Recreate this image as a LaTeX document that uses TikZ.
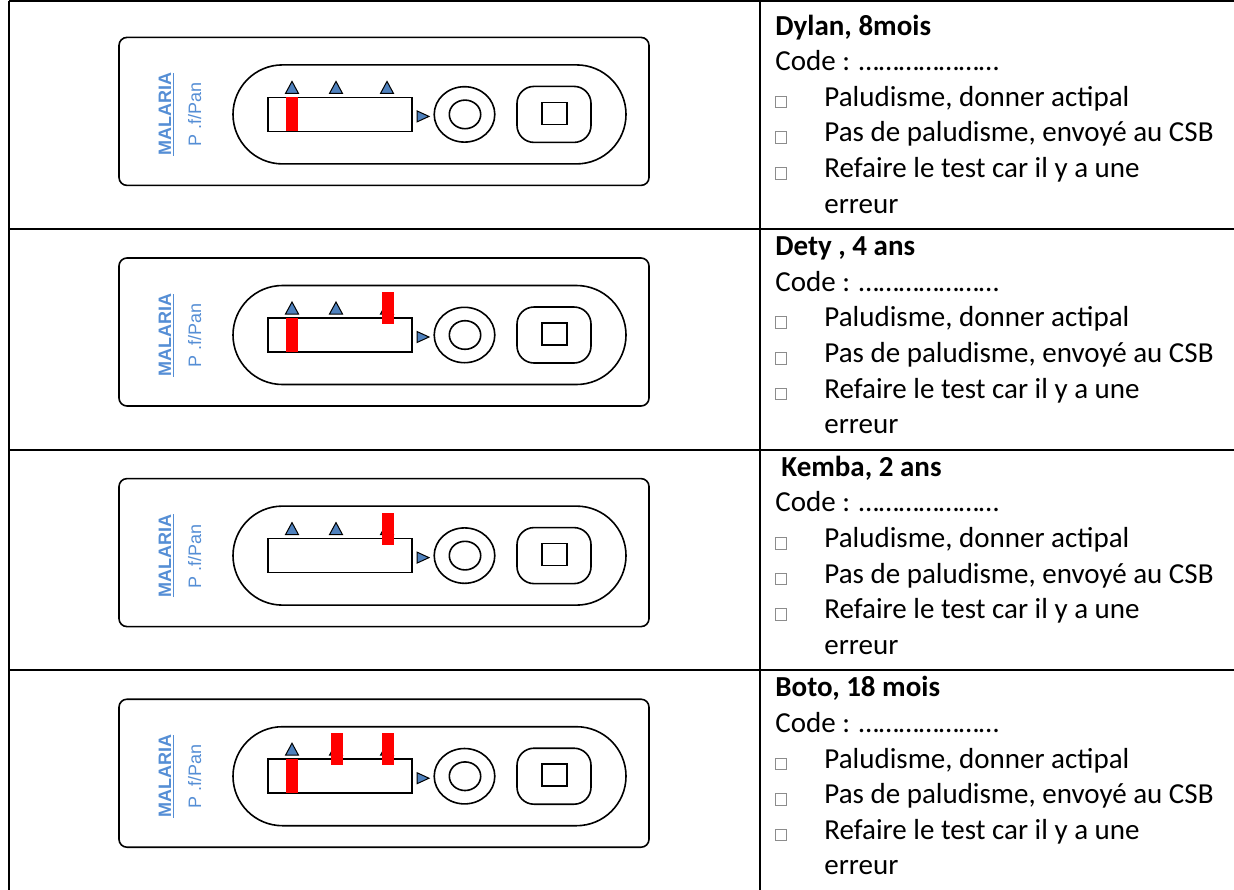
\documentclass[tikz,border=0pt]{standalone}
\usepackage{fontspec}
\setmainfont{Carlito}
\newfontfamily\arialfont{Liberation Sans}
\definecolor{labelblue}{HTML}{558ED5}
\definecolor{markblue}{HTML}{4F81BD}
\definecolor{boxgray}{HTML}{8C8C8C}
\begin{document}
\begin{tikzpicture}[x=0.5pt, y=-0.5pt,
  tableline/.style={line width=1pt},
  casing/.style={line width=0.8pt},
  marker/.style={draw=black, fill=markblue, line width=0.5pt},
  redline/.style={fill=red},
  tickbox/.style={draw=boxgray, line width=0.4pt},
  entry/.style={anchor=base west, inner sep=0pt, font=\fontsize{14.5}{17}\selectfont},
  brand/.style={rotate=90, anchor=base, inner sep=0pt, text=labelblue, font=\arialfont\fontsize{9}{11}\selectfont}]
\useasboundingbox (0,0) rectangle (1234,889);
\clip (0,0) rectangle (1234,889);
% table
\draw[tableline] (8.7,1) -- (1240,1);
\draw[tableline] (8.7,229) -- (1240,229);
\draw[tableline] (8.7,450) -- (1240,450);
\draw[tableline] (8.7,670) -- (1240,670);
\draw[tableline] (8.7,1) -- (8.7,900);
\draw[tableline] (760,1) -- (760,900);
% Dylan
\begin{scope}
\draw[casing, rounded corners=4pt] (119,37.4) rectangle (649,185.4);
\draw[casing, rounded corners=24.75pt] (233,64.9) rectangle (626,163.9);
\draw[casing] (268,97.4) rectangle (412,131.4);
\draw[marker] (285.5,93.4) -- (292,81.4) -- (298.5,93.4) -- cycle;
\draw[marker] (329.5,93.4) -- (336,81.4) -- (342.5,93.4) -- cycle;
\draw[marker] (380.5,93.4) -- (387,81.4) -- (393.5,93.4) -- cycle;
\draw[marker] (417,110.9) -- (429,116.4) -- (417,121.9) -- cycle;
\draw[casing] (464.5,114.4) ellipse [x radius=30.3, y radius=27.7];
\draw[casing] (465,114.4) ellipse [x radius=15.7, y radius=14.3];
\draw[casing, rounded corners=8.5pt] (517,86.4) rectangle (591,142.4);
\draw[casing] (542,102.4) rectangle (567,124.4);
\node[brand] (malaria1) at (171,114.4) {\bfseries\underline{MALARIA}};
\node[brand] (pfpan1) at (201,114.9) {P .f/Pan};
\fill[redline] (286,97.4) rectangle (298,131.4);
\node[entry] (name1) at (775,35) {\textbf{Dylan, 8mois}};
\node[entry] (code1) at (775,70.6) {Code : …………………};
\draw[tickbox] (775,96.2) rectangle (786.5,107.7);
\draw[tickbox] (775,131.8) rectangle (786.5,143.3);
\draw[tickbox] (775,167.4) rectangle (786.5,178.9);
\node[entry] (yes1) at (824,106.2) {Paludisme, donner actipal};
\node[entry] (no1) at (824,141.8) {Pas de paludisme, envoyé au CSB};
\node[entry] (redo1) at (824,177.4) {Refaire le test car il y a une};
\node[entry] (err1) at (824,213) {erreur};
\end{scope}
% Dety
\begin{scope}[shift={(0,220.6)}]
\draw[casing, rounded corners=4pt] (119,37.4) rectangle (649,185.4);
\draw[casing, rounded corners=24.75pt] (233,64.9) rectangle (626,163.9);
\draw[casing] (268,97.4) rectangle (412,131.4);
\draw[marker] (285.5,93.4) -- (292,81.4) -- (298.5,93.4) -- cycle;
\draw[marker] (329.5,93.4) -- (336,81.4) -- (342.5,93.4) -- cycle;
\draw[marker] (380.5,93.4) -- (387,81.4) -- (393.5,93.4) -- cycle;
\draw[marker] (417,110.9) -- (429,116.4) -- (417,121.9) -- cycle;
\draw[casing] (464.5,114.4) ellipse [x radius=30.3, y radius=27.7];
\draw[casing] (465,114.4) ellipse [x radius=15.7, y radius=14.3];
\draw[casing, rounded corners=8.5pt] (517,86.4) rectangle (591,142.4);
\draw[casing] (542,102.4) rectangle (567,124.4);
\node[brand] (malaria2) at (171,114.4) {\bfseries\underline{MALARIA}};
\node[brand] (pfpan2) at (201,114.9) {P .f/Pan};
\fill[redline] (286,97.4) rectangle (298,131.4);
\fill[redline] (382,71.4) rectangle (394,103.4);
\node[entry] (name2) at (775,35) {\textbf{Dety , 4 ans}};
\node[entry] (code2) at (775,70.6) {Code : …………………};
\draw[tickbox] (775,96.2) rectangle (786.5,107.7);
\draw[tickbox] (775,131.8) rectangle (786.5,143.3);
\draw[tickbox] (775,167.4) rectangle (786.5,178.9);
\node[entry] (yes2) at (824,106.2) {Paludisme, donner actipal};
\node[entry] (no2) at (824,141.8) {Pas de paludisme, envoyé au CSB};
\node[entry] (redo2) at (824,177.4) {Refaire le test car il y a une};
\node[entry] (err2) at (824,213) {erreur};
\end{scope}
% Kemba
\begin{scope}[shift={(0,441.2)}]
\draw[casing, rounded corners=4pt] (119,37.4) rectangle (649,185.4);
\draw[casing, rounded corners=24.75pt] (233,64.9) rectangle (626,163.9);
\draw[casing] (268,97.4) rectangle (412,131.4);
\draw[marker] (285.5,93.4) -- (292,81.4) -- (298.5,93.4) -- cycle;
\draw[marker] (329.5,93.4) -- (336,81.4) -- (342.5,93.4) -- cycle;
\draw[marker] (380.5,93.4) -- (387,81.4) -- (393.5,93.4) -- cycle;
\draw[marker] (417,110.9) -- (429,116.4) -- (417,121.9) -- cycle;
\draw[casing] (464.5,114.4) ellipse [x radius=30.3, y radius=27.7];
\draw[casing] (465,114.4) ellipse [x radius=15.7, y radius=14.3];
\draw[casing, rounded corners=8.5pt] (517,86.4) rectangle (591,142.4);
\draw[casing] (542,102.4) rectangle (567,124.4);
\node[brand] (malaria3) at (171,114.4) {\bfseries\underline{MALARIA}};
\node[brand] (pfpan3) at (201,114.9) {P .f/Pan};
\fill[redline] (382,71.4) rectangle (394,103.4);
\node[entry] (name3) at (781,35) {\textbf{Kemba, 2 ans}};
\node[entry] (code3) at (775,70.6) {Code : …………………};
\draw[tickbox] (775,96.2) rectangle (786.5,107.7);
\draw[tickbox] (775,131.8) rectangle (786.5,143.3);
\draw[tickbox] (775,167.4) rectangle (786.5,178.9);
\node[entry] (yes3) at (824,106.2) {Paludisme, donner actipal};
\node[entry] (no3) at (824,141.8) {Pas de paludisme, envoyé au CSB};
\node[entry] (redo3) at (824,177.4) {Refaire le test car il y a une};
\node[entry] (err3) at (824,213) {erreur};
\end{scope}
% Boto
\begin{scope}[shift={(0,661.8)}]
\draw[casing, rounded corners=4pt] (119,37.4) rectangle (649,185.4);
\draw[casing, rounded corners=24.75pt] (233,64.9) rectangle (626,163.9);
\draw[casing] (268,97.4) rectangle (412,131.4);
\draw[marker] (285.5,93.4) -- (292,81.4) -- (298.5,93.4) -- cycle;
\draw[marker] (329.5,93.4) -- (336,81.4) -- (342.5,93.4) -- cycle;
\draw[marker] (380.5,93.4) -- (387,81.4) -- (393.5,93.4) -- cycle;
\draw[marker] (417,110.9) -- (429,116.4) -- (417,121.9) -- cycle;
\draw[casing] (464.5,114.4) ellipse [x radius=30.3, y radius=27.7];
\draw[casing] (465,114.4) ellipse [x radius=15.7, y radius=14.3];
\draw[casing, rounded corners=8.5pt] (517,86.4) rectangle (591,142.4);
\draw[casing] (542,102.4) rectangle (567,124.4);
\node[brand] (malaria4) at (171,114.4) {\bfseries\underline{MALARIA}};
\node[brand] (pfpan4) at (201,114.9) {P .f/Pan};
\fill[redline] (286,97.4) rectangle (298,131.4);
\fill[redline] (331,71.4) rectangle (343,103.4);
\fill[redline] (382,71.4) rectangle (394,103.4);
\node[entry] (name4) at (775,35) {\textbf{Boto, 18 mois}};
\node[entry] (code4) at (775,70.6) {Code : …………………};
\draw[tickbox] (775,96.2) rectangle (786.5,107.7);
\draw[tickbox] (775,131.8) rectangle (786.5,143.3);
\draw[tickbox] (775,167.4) rectangle (786.5,178.9);
\node[entry] (yes4) at (824,106.2) {Paludisme, donner actipal};
\node[entry] (no4) at (824,141.8) {Pas de paludisme, envoyé au CSB};
\node[entry] (redo4) at (824,177.4) {Refaire le test car il y a une};
\node[entry] (err4) at (824,213) {erreur};
\end{scope}
\end{tikzpicture}
\end{document}
